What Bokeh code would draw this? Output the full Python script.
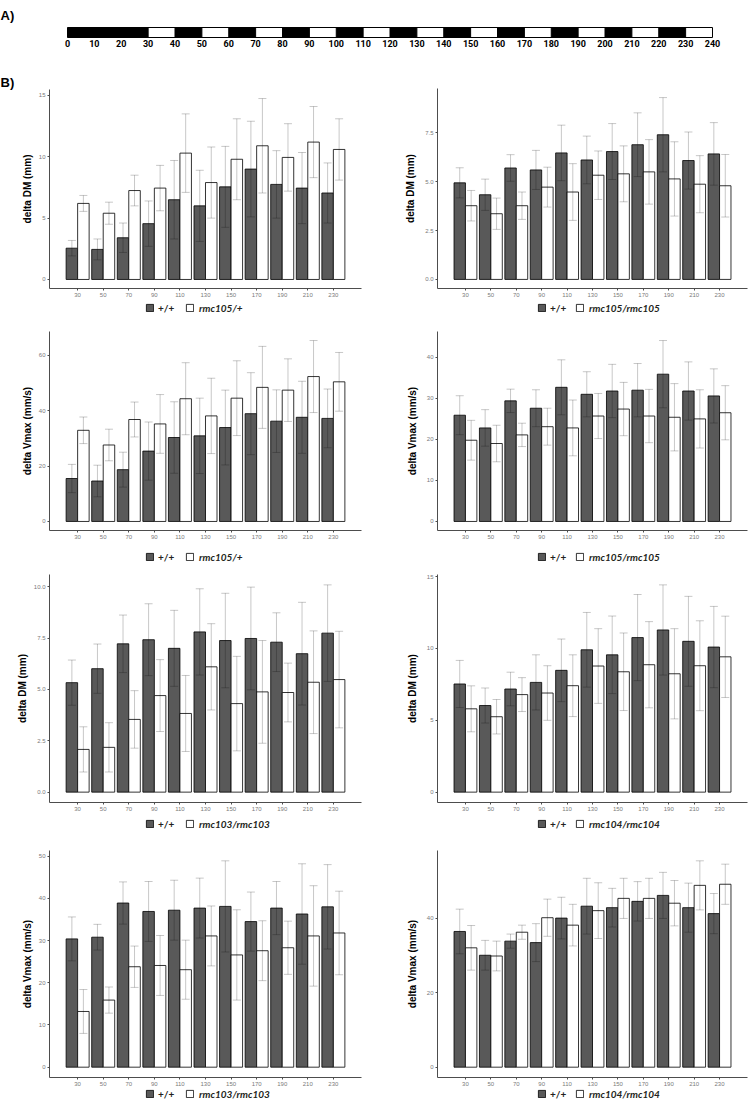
from bokeh.plotting import figure
from bokeh.models import (FactorRange, Range1d, FixedTicker, PrintfTickFormatter,
                          Whisker, TeeHead, Legend, LegendItem, ColumnDataSource)
from bokeh.core.properties import value
from bokeh.transform import dodge
from bokeh.layouts import column, row
from bokeh.embed import file_html
from bokeh.resources import INLINE

# ---------------- data ----------------
timepoints = ["30", "50", "70", "90", "110", "130", "150", "170", "190", "210", "230"]

# A) light/dark timeline (hours)
timeline_ticks = [0, 10, 20, 30, 40, 50, 60, 70, 80, 90, 100, 110, 120,
                  130, 140, 150, 160, 170, 180, 190, 200, 210, 220, 230, 240]
dark_start = [0, 40, 60, 80, 100, 120, 140, 160, 180, 200, 220]
dark_end = [30, 50, 70, 90, 110, 130, 150, 170, 190, 210, 230]

# panel 1: delta DM, +/+ vs rmc105/+
p1_wt_mean = [2.55, 2.45, 3.4, 4.55, 6.5, 6.0, 7.55, 9.0, 7.75, 7.45, 7.05]
p1_wt_sd = [0.63, 0.85, 1.2, 1.85, 3.2, 2.9, 3.3, 3.9, 2.75, 2.9, 2.45]
p1_mut_mean = [6.2, 5.4, 7.25, 7.45, 10.3, 7.9, 9.8, 10.9, 9.95, 11.2, 10.6]
p1_mut_sd = [0.65, 0.9, 1.25, 1.85, 3.2, 2.9, 3.3, 3.85, 2.75, 2.9, 2.5]

# panel 2: delta DM, +/+ vs rmc105/rmc105
p2_wt_mean = [4.94, 4.33, 5.7, 5.6, 6.47, 6.11, 6.54, 6.89, 7.4, 6.08, 6.42]
p2_wt_sd = [0.77, 0.8, 0.68, 1.0, 1.42, 1.22, 1.43, 1.63, 1.9, 1.46, 1.6]
p2_mut_mean = [3.77, 3.36, 3.77, 4.72, 4.47, 5.33, 5.4, 5.5, 5.14, 4.87, 4.79]
p2_mut_sd = [0.78, 0.8, 0.7, 1.02, 1.45, 1.24, 1.43, 1.65, 1.9, 1.46, 1.6]

# panel 3: delta Vmax, +/+ vs rmc105/+
p3_wt_mean = [15.5, 14.6, 18.7, 25.4, 30.3, 30.9, 33.9, 38.9, 36.2, 37.6, 37.2]
p3_wt_sd = [5.1, 5.7, 6.3, 10.5, 12.9, 13.6, 13.5, 14.8, 11.3, 13.0, 10.6]
p3_mut_mean = [32.9, 27.6, 36.8, 35.2, 44.3, 38.1, 44.5, 48.4, 47.4, 52.3, 50.4]
p3_mut_sd = [4.8, 5.7, 6.3, 10.6, 13.0, 13.6, 13.5, 14.8, 11.3, 13.0, 10.6]

# panel 4: delta Vmax, +/+ vs rmc105/rmc105
p4_wt_mean = [25.9, 22.8, 29.4, 27.6, 32.7, 31.0, 31.8, 32.0, 35.9, 31.8, 30.6]
p4_wt_sd = [4.75, 4.45, 2.85, 4.5, 6.7, 5.5, 6.5, 6.5, 8.2, 7.1, 6.6]
p4_mut_mean = [19.8, 19.0, 21.1, 23.1, 22.8, 25.7, 27.4, 25.7, 25.4, 25.0, 26.5]
p4_mut_sd = [4.85, 4.45, 2.85, 4.5, 6.8, 5.5, 6.5, 6.5, 8.2, 7.1, 6.6]

# panel 5: delta DM, +/+ vs rmc103/rmc103
p5_wt_mean = [5.33, 6.01, 7.22, 7.42, 7.0, 7.8, 7.38, 7.48, 7.3, 6.74, 7.74]
p5_wt_sd = [1.1, 1.2, 1.4, 1.75, 1.85, 2.1, 2.3, 2.5, 1.43, 2.5, 2.35]
p5_mut_mean = [2.08, 2.18, 3.54, 4.7, 3.83, 6.1, 4.31, 4.88, 4.85, 5.35, 5.48]
p5_mut_sd = [1.1, 1.2, 1.4, 1.75, 1.85, 2.1, 2.3, 2.5, 1.43, 2.5, 2.35]

# panel 6: delta DM, +/+ vs rmc104/rmc104
p6_wt_mean = [7.53, 6.03, 7.18, 7.64, 8.48, 9.91, 9.56, 10.76, 11.29, 10.5, 10.1]
p6_wt_sd = [1.64, 1.22, 1.17, 1.92, 2.18, 2.6, 2.7, 3.0, 3.14, 3.13, 2.83]
p6_mut_mean = [5.8, 5.25, 6.79, 6.9, 7.41, 8.78, 8.38, 8.87, 8.24, 8.8, 9.42]
p6_mut_sd = [1.6, 1.2, 1.18, 1.9, 2.15, 2.6, 2.7, 3.0, 3.14, 3.13, 2.83]

# panel 7: delta Vmax, +/+ vs rmc103/rmc103
p7_wt_mean = [30.4, 30.8, 38.9, 36.9, 37.2, 37.7, 38.1, 34.5, 37.7, 36.3, 38.0]
p7_wt_sd = [5.2, 3.05, 5.0, 7.1, 7.1, 7.1, 10.8, 7.0, 6.3, 11.9, 10.0]
p7_mut_mean = [13.2, 15.9, 23.8, 24.1, 23.1, 31.1, 26.6, 27.6, 28.3, 31.1, 31.8]
p7_mut_sd = [5.2, 3.1, 4.9, 7.1, 7.0, 7.1, 10.7, 7.1, 6.3, 11.9, 9.9]

# panel 8: delta Vmax, +/+ vs rmc104/rmc104
p8_wt_mean = [36.5, 30.1, 33.9, 33.5, 40.1, 43.3, 42.9, 44.6, 46.2, 42.9, 41.3]
p8_wt_sd = [6.0, 4.0, 1.9, 5.1, 5.6, 7.5, 5.2, 5.3, 6.2, 6.6, 5.4]
p8_mut_mean = [32.1, 29.9, 36.3, 40.2, 38.2, 42.1, 45.4, 45.4, 44.1, 48.9, 49.2]
p8_mut_sd = [6.0, 4.0, 1.9, 5.0, 5.6, 7.5, 5.4, 5.4, 6.1, 6.6, 5.4]

# ---------------- styling ----------------
DARK = "#595959"
AXIS_COL = "#4d4d4d"
TICK_TXT = "#7a7a7a"
FONT = "Liberation Sans"

# (border top, frame height, border bottom, legend strip height, legend centre from strip top)
ROWS = [(16, 200, 12, 20, 8.5), (11, 199, 12, 26, 15.5),
        (6, 228, 12, 26, 10.7), (10, 227, 11, 20, 6.5)]


def make_panel(ylabel, mut_label, wt_mean, wt_sd, mut_mean, mut_sd,
               yticks, fmt, side, geom, panel_letter=None):
    top_b, frame_h, bot_b, leg_h, leg_c = geom
    if side == "left":
        lb, rb, leg1_x, leg2_x, t_stand = 49, 14, 145, 185, 3
    else:
        lb, rb, leg1_x, leg2_x, t_stand = 62, 3, 162, 200, 6
    h = top_b + frame_h + bot_b

    wt_lo = [m - s for m, s in zip(wt_mean, wt_sd)]
    wt_hi = [m + s for m, s in zip(wt_mean, wt_sd)]
    mut_lo = [m - s for m, s in zip(mut_mean, mut_sd)]
    mut_hi = [m + s for m, s in zip(mut_mean, mut_sd)]
    ymax = max(wt_hi + mut_hi)

    src = ColumnDataSource(dict(t=timepoints, wt=wt_mean, wt_lo=wt_lo, wt_hi=wt_hi,
                                mut=mut_mean, mut_lo=mut_lo, mut_hi=mut_hi))

    p = figure(x_range=FactorRange(factors=timepoints, range_padding=1.2 / 11),
               y_range=Range1d(-0.05 * ymax, 1.05 * ymax),
               width=375, height=h,
               min_border_left=lb, min_border_right=rb,
               min_border_top=top_b, min_border_bottom=bot_b,
               toolbar_location=None, output_backend="svg",
               background_fill_color="white", border_fill_color="white")
    p.outline_line_color = None
    p.xgrid.visible = False
    p.ygrid.visible = False

    bar_wt = dict(fill_color=DARK, line_color="black", line_width=0.8)
    bar_mut = dict(fill_color="white", line_color="black", line_width=0.8)
    p.vbar(x=dodge("t", -0.225, range=p.x_range), top="wt", bottom=0, width=0.45,
           source=src, **bar_wt)
    p.vbar(x=dodge("t", 0.225, range=p.x_range), top="mut", bottom=0, width=0.45,
           source=src, **bar_mut)

    for off, lo, hi in ((-0.225, "wt_lo", "wt_hi"), (0.225, "mut_lo", "mut_hi")):
        w = Whisker(source=src, base=dodge("t", off, range=p.x_range), upper=hi, lower=lo,
                    line_color="black", line_alpha=0.22, line_width=1, level="overlay",
                    upper_head=TeeHead(size=8, line_color="black", line_alpha=0.22, line_width=1),
                    lower_head=TeeHead(size=8, line_color="black", line_alpha=0.22, line_width=1))
        p.add_layout(w)

    # axes
    for ax in (p.xaxis[0], p.yaxis[0]):
        ax.axis_line_color = AXIS_COL
        ax.axis_line_width = 1
        ax.major_tick_line_color = AXIS_COL
        ax.major_tick_out = 2
        ax.major_tick_in = 0
        ax.minor_tick_line_color = None
        ax.major_label_text_font = FONT
        ax.major_label_text_font_size = "6px"
        ax.major_label_text_color = TICK_TXT
        ax.major_label_standoff = 2
    p.yaxis.ticker = FixedTicker(ticks=yticks)
    p.yaxis.formatter = PrintfTickFormatter(format=fmt)
    p.yaxis.axis_label = ylabel
    p.yaxis.axis_label_text_font = FONT
    p.yaxis.axis_label_text_font_size = "10px"
    p.yaxis.axis_label_text_font_style = "bold"
    p.yaxis.axis_label_text_color = "black"
    p.yaxis.axis_label_standoff = t_stand

    if panel_letter:
        p.title.text = panel_letter
        p.title.align = "left"
        p.title.offset = -lb
        p.title.standoff = 0
        p.title.text_font = FONT
        p.title.text_font_size = "13px"
        p.title.text_font_style = "bold"
        p.title.text_color = "black"

    # legend strip under the panel (its frame is aligned with the panel frame)
    lf = figure(width=375, height=leg_h,
                x_range=FactorRange(factors=timepoints, range_padding=1.2 / 11),
                y_range=Range1d(0, 1),
                x_axis_type=None, y_axis_type=None,
                min_border_left=lb, min_border_right=rb, min_border_top=0, min_border_bottom=0,
                toolbar_location=None, output_backend="svg",
                background_fill_color="white", border_fill_color="white")
    lf.outline_line_color = None
    lf.xgrid.visible = False
    lf.ygrid.visible = False
    k_wt = lf.vbar(x=dodge("t", -0.225, range=lf.x_range), top="wt", bottom=0, width=0.45,
                   source=src, visible=False, **bar_wt)
    k_mut = lf.vbar(x=dodge("t", 0.225, range=lf.x_range), top="mut", bottom=0, width=0.45,
                    source=src, visible=False, **bar_mut)
    leg_y = leg_h - leg_c - 5
    common = dict(orientation="horizontal", border_line_color=None, background_fill_alpha=0,
                  padding=0, margin=0, glyph_width=9, glyph_height=9, label_height=10,
                  label_text_font="Lato", label_text_font_size="10px",
                  label_text_color="#231f20", label_text_baseline="middle",
                  click_policy="none")
    lf.add_layout(Legend(items=[LegendItem(label=value("+/+"), renderers=[k_wt])],
                         location=(leg1_x - lb, leg_y), label_standoff=4,
                         label_text_font_style="bold", **common))
    lf.add_layout(Legend(items=[LegendItem(label=value(mut_label), renderers=[k_mut])],
                         location=(leg2_x - lb, leg_y), label_standoff=5,
                         label_text_font_style="bold italic", **common))
    return column(p, lf)


# ---------------- header: A) timeline ----------------
header = figure(width=750, height=72, x_range=Range1d(0, 240), y_range=Range1d(0, 1),
                min_border_left=67, min_border_right=38, min_border_top=27, min_border_bottom=35,
                toolbar_location=None, output_backend="svg",
                background_fill_color="white", border_fill_color="white")
header.outline_line_color = "black"
header.outline_line_width = 1
header.xgrid.visible = False
header.ygrid.visible = False
header.yaxis.visible = False
header.quad(left=dark_start, right=dark_end, bottom=0, top=1,
            fill_color="black", line_color="black")
header.xaxis.ticker = FixedTicker(ticks=timeline_ticks)
header.xaxis.axis_line_color = None
header.xaxis.major_tick_line_color = None
header.xaxis.major_tick_out = 0
header.xaxis.major_tick_in = 0
header.xaxis.minor_tick_line_color = None
header.xaxis.major_label_standoff = 2
header.xaxis.major_label_text_font = "Roboto"
header.xaxis.major_label_text_font_size = "9px"
header.xaxis.major_label_text_font_style = "bold"
header.xaxis.major_label_text_color = "black"
header.title.text = "A)"
header.title.align = "left"
header.title.offset = -67
header.title.standoff = 10
header.title.text_font = FONT
header.title.text_font_size = "13px"
header.title.text_font_style = "bold"
header.title.text_color = "black"

DM = "delta DM (mm)"
VM = "delta Vmax (mm/s)"
c1 = make_panel(DM, "rmc105/+", p1_wt_mean, p1_wt_sd, p1_mut_mean, p1_mut_sd,
                [0, 5, 10, 15], "%d", "left", ROWS[0], panel_letter="B)")
c2 = make_panel(DM, "rmc105/rmc105", p2_wt_mean, p2_wt_sd, p2_mut_mean, p2_mut_sd,
                [0, 2.5, 5, 7.5], "%.1f", "right", ROWS[0])
c3 = make_panel(VM, "rmc105/+", p3_wt_mean, p3_wt_sd, p3_mut_mean, p3_mut_sd,
                [0, 20, 40, 60], "%d", "left", ROWS[1])
c4 = make_panel(VM, "rmc105/rmc105", p4_wt_mean, p4_wt_sd, p4_mut_mean, p4_mut_sd,
                [0, 10, 20, 30, 40], "%d", "right", ROWS[1])
c5 = make_panel(DM, "rmc103/rmc103", p5_wt_mean, p5_wt_sd, p5_mut_mean, p5_mut_sd,
                [0, 2.5, 5, 7.5, 10], "%.1f", "left", ROWS[2])
c6 = make_panel(DM, "rmc104/rmc104", p6_wt_mean, p6_wt_sd, p6_mut_mean, p6_mut_sd,
                [0, 5, 10, 15], "%d", "right", ROWS[2])
c7 = make_panel(VM, "rmc103/rmc103", p7_wt_mean, p7_wt_sd, p7_mut_mean, p7_mut_sd,
                [0, 10, 20, 30, 40, 50], "%d", "left", ROWS[3])
c8 = make_panel(VM, "rmc104/rmc104", p8_wt_mean, p8_wt_sd, p8_mut_mean, p8_mut_sd,
                [0, 20, 40], "%d", "right", ROWS[3])

layout = column(header, row(c1, c2), row(c3, c4), row(c5, c6), row(c7, c8))
layout.styles = {"position": "absolute", "left": "0px", "top": "0px"}

open("out.html", "w").write(file_html(layout, INLINE))
